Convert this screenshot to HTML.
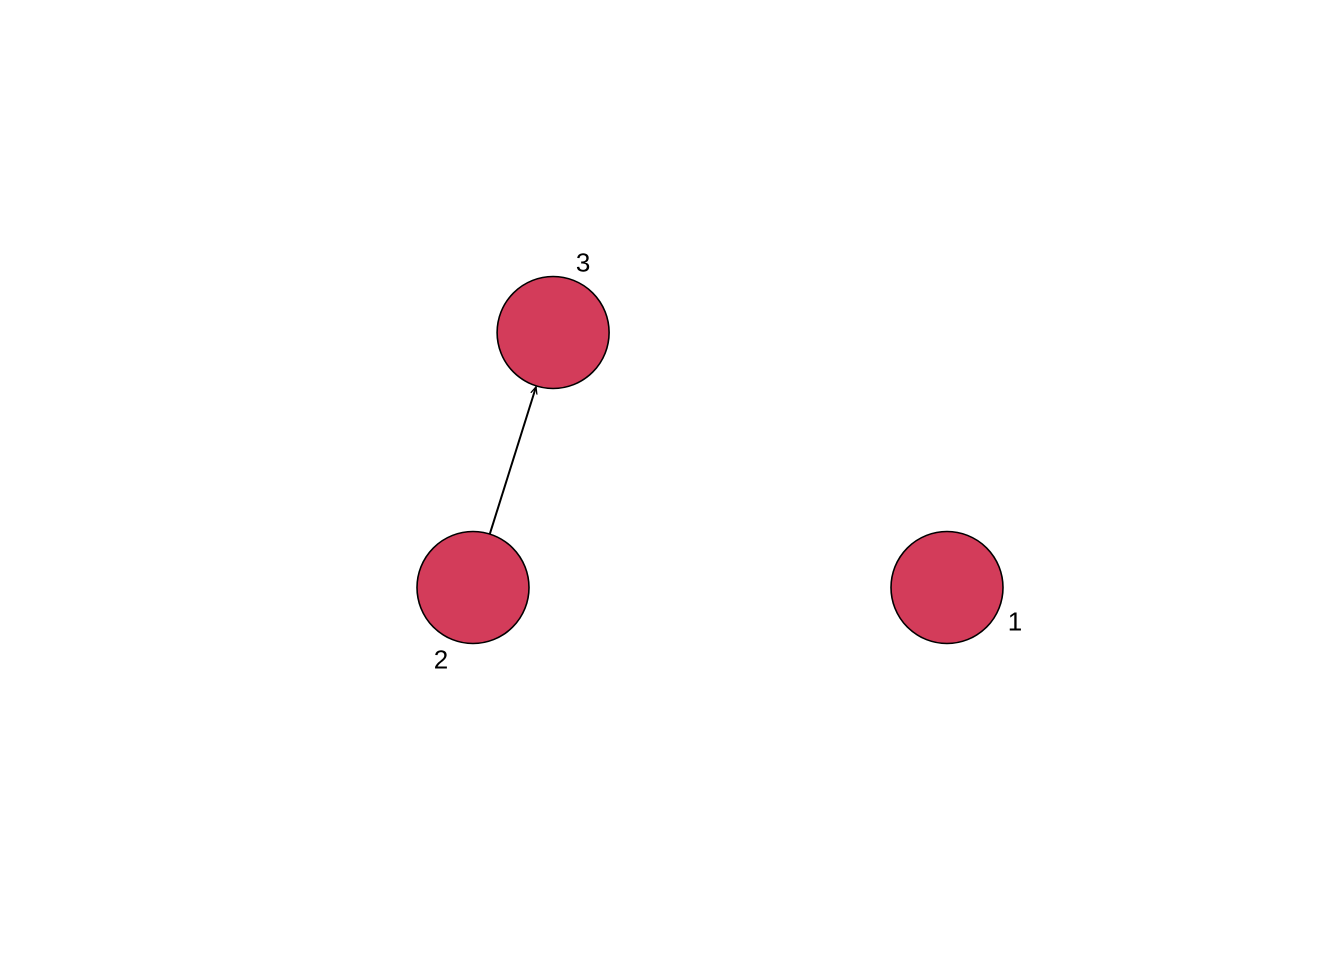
<!DOCTYPE html>
<html><head><meta charset="utf-8"><style>
html,body{margin:0;padding:0;background:#fff;}
svg{display:block;font-family:"Liberation Sans",sans-serif;}
</style></head><body>
<svg id="chart" width="1344" height="960" viewBox="0 0 1344 960">
<defs><marker id="arr" viewBox="0 0 10 10" refX="9" refY="5" markerWidth="8" markerHeight="8" orient="auto" markerUnits="userSpaceOnUse">
<path d="M0,1 L9,5 L0,9" fill="none" stroke="#000" stroke-width="1.6"/></marker></defs>
<g id="edges"></g><g id="nodes"></g><g id="labels"></g>
</svg>
<script>
const nodeIds = ["1","2","3"];
const nodeX = [1, -1, -0.662];
const nodeY = [-1, -1, 1];
const labelDX = [68, -32, 30];
const labelDY = [34, 72, -70];
const edgeFrom = [1];
const edgeTo = [2];
const R = 56;
const sx = v => 710 + v * 237;
const sy = v => 460 - v * 127.5;
const NS = "http://www.w3.org/2000/svg";
const eg = document.getElementById('edges'), ng = document.getElementById('nodes'), lg = document.getElementById('labels');
edgeFrom.forEach((f, i) => {
  const t = edgeTo[i];
  const x1 = sx(nodeX[f]), y1 = sy(nodeY[f]), x2 = sx(nodeX[t]), y2 = sy(nodeY[t]);
  const d = Math.hypot(x2 - x1, y2 - y1), ux = (x2 - x1) / d, uy = (y2 - y1) / d;
  const l = document.createElementNS(NS, 'line');
  
  
  l.setAttribute('x1', x1 + ux * R); l.setAttribute('y1', y1 + uy * R);
  l.setAttribute('x2', x2 - ux * (R + 1)); l.setAttribute('y2', y2 - uy * (R + 1));
  l.setAttribute('stroke', '#000'); l.setAttribute('stroke-width', '2');
  l.setAttribute('marker-end', 'url(#arr)');
  eg.appendChild(l);
});
nodeIds.forEach((id, i) => {
  const c = document.createElementNS(NS, 'circle');
  
  
  c.setAttribute('cx', sx(nodeX[i])); c.setAttribute('cy', sy(nodeY[i])); c.setAttribute('r', R);
  c.setAttribute('fill', '#D33C5A'); c.setAttribute('stroke', '#000'); c.setAttribute('stroke-width', '1.6');
  ng.appendChild(c);
  const t = document.createElementNS(NS, 'text');
  
  
  t.setAttribute('x', sx(nodeX[i]) + labelDX[i]); t.setAttribute('y', sy(nodeY[i]) + labelDY[i] + 9);
  t.setAttribute('text-anchor', 'middle'); t.setAttribute('font-size', '26');
  t.textContent = id;
  lg.appendChild(t);
});
</script>
</body></html>
